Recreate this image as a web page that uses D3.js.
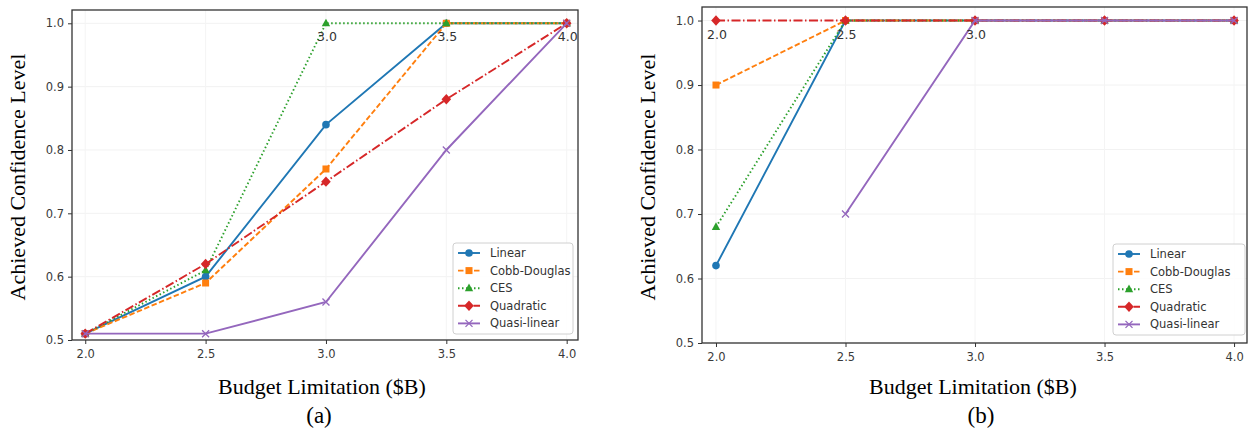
<!DOCTYPE html>
<html>
<head>
<meta charset="utf-8">
<script src="https://cdn.jsdelivr.net/npm/d3@7"></script>
<style>
  body { margin: 0; background: #fff; }
  svg { display: block; }
  .tick text { font-family: "DejaVu Sans", sans-serif; font-size: 11.5px; fill: #3a3a3a; }
</style>
</head>
<body>
<div id="chart"></div>
<script>
// budgets on the x axis
const budgets = [2.0, 2.5, 3.0, 3.5, 4.0];
const xTicks = [2.0, 2.5, 3.0, 3.5, 4.0];
const yTicks = [0.5, 0.6, 0.7, 0.8, 0.9, 1.0];

const seriesNames = ["Linear", "Cobb-Douglas", "CES", "Quadratic", "Quasi-linear"];

// panel (a)
const linearA = [0.51, 0.60, 0.84, 1.0, 1.0];
const cobbA   = [0.51, 0.59, 0.77, 1.0, 1.0];
const cesA    = [0.51, 0.61, 1.0, 1.0, 1.0];
const quadA   = [0.51, 0.62, 0.75, 0.88, 1.0];
const quasiA  = [0.51, 0.51, 0.56, 0.80, 1.0];
const annotA  = [3.0, 3.5, 4.0];

// panel (b)
const linearB = [0.62, 1.0, 1.0, 1.0, 1.0];
const cobbB   = [0.90, 1.0, 1.0, 1.0, 1.0];
const cesB    = [0.68, 1.0, 1.0, 1.0, 1.0];
const quadB   = [1.0, 1.0, 1.0, 1.0, 1.0];
const quasiB  = [null, 0.70, 1.0, 1.0, 1.0];
const annotB  = [2.0, 2.5, 3.0];

const styles = [
    {color: "#1f77b4", dash: null, marker: "circle"},
    {color: "#ff7f0e", dash: "5.5,2.5", marker: "square"},
    {color: "#2ca02c", dash: "1.5,2.5", marker: "triangle"},
    {color: "#d62728", dash: "9,2.5,1.5,2.5", marker: "diamond"},
    {color: "#9467bd", dash: null, marker: "x"}
];

const svg = d3.select("#chart").append("svg")
    .attr("width", 1250)
    .attr("height", 430);

function drawMarker(g, type, x, y, color) {
    if (type === "circle") {
        g.append("circle").attr("cx", x).attr("cy", y).attr("r", 3.8).attr("fill", color);
    } else if (type === "square") {
        g.append("rect").attr("x", x - 3.5).attr("y", y - 3.5).attr("width", 7).attr("height", 7).attr("fill", color);
    } else if (type === "triangle") {
        g.append("path").attr("d", `M${x},${y - 4.6}L${x + 4.2},${y + 3}L${x - 4.2},${y + 3}Z`).attr("fill", color);
    } else if (type === "diamond") {
        g.append("path").attr("d", `M${x},${y - 5.2}L${x + 4.8},${y}L${x},${y + 5.2}L${x - 4.8},${y}Z`).attr("fill", color);
    } else if (type === "x") {
        g.append("path").attr("d", `M${x - 3.5},${y - 3.5}L${x + 3.5},${y + 3.5}M${x - 3.5},${y + 3.5}L${x + 3.5},${y - 3.5}`)
            .attr("stroke", color).attr("stroke-width", 1.3);
    }
}

function drawPanel(cfg) {
    const x = d3.scaleLinear().domain(cfg.xDomain).range([cfg.left, cfg.right]);
    const y = d3.scaleLinear().domain(cfg.yDomain).range([cfg.bottom, cfg.top]);
    const g = svg.append("g");

    // faint grid
    g.selectAll(".gy").data(yTicks).enter().append("line")
        .attr("x1", cfg.left).attr("x2", cfg.right)
        .attr("y1", d => y(d)).attr("y2", d => y(d))
        .attr("stroke", "#f2f2f2").attr("stroke-width", 1);
    g.selectAll(".gx").data(xTicks).enter().append("line")
        .attr("y1", cfg.top).attr("y2", cfg.bottom)
        .attr("x1", d => x(d)).attr("x2", d => x(d))
        .attr("stroke", "#f4f4f4").attr("stroke-width", 1);

    // lines + markers, series by series
    cfg.series.forEach((vals, i) => {
        const st = styles[i];
        const data = budgets.map((b, j) => ({x: b, y: vals[j]}));
        const line = d3.line()
            .defined(d => d.y !== null)
            .x(d => x(d.x))
            .y(d => y(d.y));
        const sg = g.append("g");
        sg.append("path")
            .datum(data)
            .attr("d", line)
            .attr("fill", "none")
            .attr("stroke", st.color)
            .attr("stroke-width", 1.9)
            .attr("stroke-dasharray", st.dash);
        data.filter(d => d.y !== null).forEach(d => drawMarker(sg, st.marker, x(d.x), y(d.y), st.color));
    });

    // annotations where the level first reaches 1.0
    g.selectAll(".annot").data(cfg.annot).enter().append("text")
        .attr("x", d => x(d) + 1)
        .attr("y", y(1.0) + 18)
        .attr("text-anchor", "middle")
        .attr("font-family", "DejaVu Sans, sans-serif")
        .attr("font-size", "12.5px")
        .attr("fill", "#333")
        .text(d => d3.format(".1f")(d));

    // frame
    g.append("rect")
        .attr("x", cfg.left).attr("y", cfg.top)
        .attr("width", cfg.right - cfg.left).attr("height", cfg.bottom - cfg.top)
        .attr("fill", "none").attr("stroke", "#333").attr("stroke-width", 1.3);

    // axes
    g.append("g")
        .attr("transform", `translate(0, ${cfg.bottom})`)
        .call(d3.axisBottom(x).tickValues(xTicks).tickFormat(d3.format(".1f")).tickSizeOuter(0).tickSize(4).tickPadding(6))
        .call(a => a.select(".domain").remove())
        .call(a => a.selectAll(".tick line").attr("stroke", "#333"));
    g.append("g")
        .attr("transform", `translate(${cfg.left}, 0)`)
        .call(d3.axisLeft(y).tickValues(yTicks).tickFormat(d3.format(".1f")).tickSizeOuter(0).tickSize(4).tickPadding(4))
        .call(a => a.select(".domain").remove())
        .call(a => a.selectAll(".tick line").attr("stroke", "#333"));

    // legend
    const lg = g.append("g").attr("transform", `translate(${cfg.legX}, ${cfg.legY})`);
    lg.append("rect")
        .attr("width", cfg.legW).attr("height", 91)
        .attr("rx", 3)
        .attr("fill", "#fff").attr("fill-opacity", 0.85)
        .attr("stroke", "#d0d0d0").attr("stroke-width", 1);
    seriesNames.forEach((name, i) => {
        const st = styles[i];
        const ry = 10 + i * 17.6;
        lg.append("line")
            .attr("x1", 5).attr("x2", 27)
            .attr("y1", ry).attr("y2", ry)
            .attr("stroke", st.color).attr("stroke-width", 1.9)
            .attr("stroke-dasharray", st.dash);
        drawMarker(lg, st.marker, 16, ry, st.color);
        lg.append("text")
            .attr("x", 37).attr("y", ry + 4)
            .attr("font-family", "DejaVu Sans, sans-serif")
            .attr("font-size", "11.5px")
            .attr("fill", "#333")
            .text(name);
    });

    // axis titles
    svg.append("text")
        .attr("transform", `translate(${cfg.yLabelX}, ${(cfg.top + cfg.bottom) / 2 + 2}) rotate(-90)`)
        .attr("text-anchor", "middle")
        .attr("font-family", "Liberation Serif, serif")
        .attr("font-size", "22px")
        .attr("fill", "#000")
        .text("Achieved Confidence Level");
    svg.append("text")
        .attr("x", cfg.xLabelX).attr("y", 394)
        .attr("text-anchor", "middle")
        .attr("font-family", "Liberation Serif, serif")
        .attr("font-size", "22px")
        .attr("fill", "#000")
        .text("Budget Limitation ($B)");
    svg.append("text")
        .attr("x", cfg.capX).attr("y", 423)
        .attr("text-anchor", "middle")
        .attr("font-family", "Liberation Serif, serif")
        .attr("font-size", "23px")
        .attr("fill", "#000")
        .text(cfg.caption);
}

drawPanel({
    left: 72, right: 578, top: 10, bottom: 340,
    xDomain: [1.945, 4.047], yDomain: [0.5, 1.021],
    series: [linearA, cobbA, cesA, quadA, quasiA],
    annot: annotA,
    legX: 453, legY: 243, legW: 120,
    yLabelX: 25, xLabelX: 322, capX: 319, caption: "(a)"
});

drawPanel({
    left: 702, right: 1247, top: 7, bottom: 343,
    xDomain: [1.946, 4.05], yDomain: [0.5, 1.021],
    series: [linearB, cobbB, cesB, quadB, quasiB],
    annot: annotB,
    legX: 1113, legY: 244, legW: 132,
    yLabelX: 655, xLabelX: 973, capX: 981, caption: "(b)"
});
</script>
</body>
</html>
